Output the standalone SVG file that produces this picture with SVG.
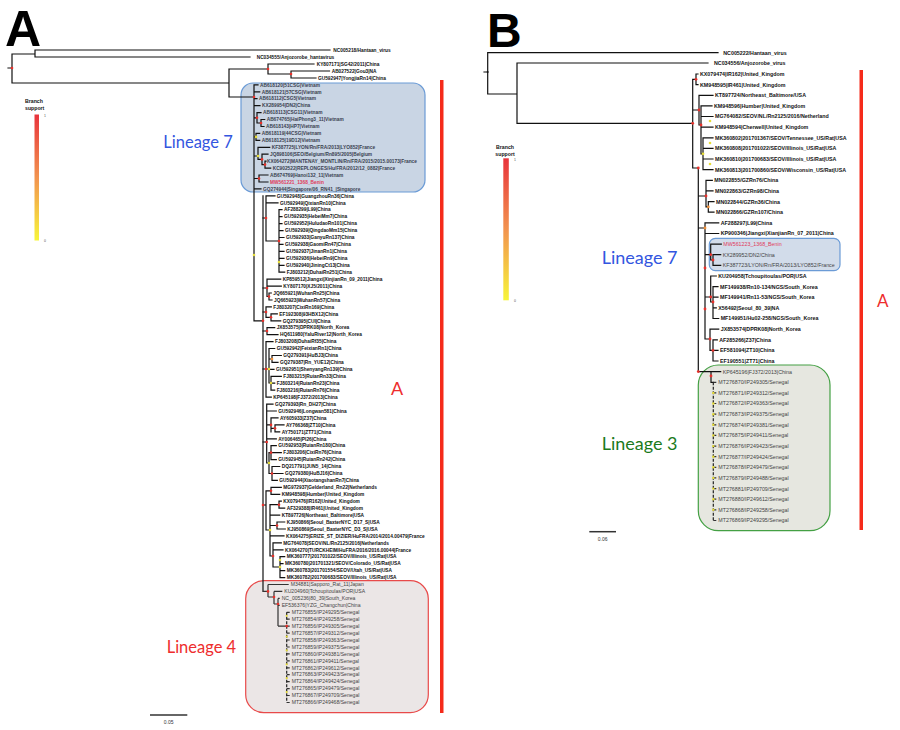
<svg xmlns="http://www.w3.org/2000/svg" width="900" height="730" viewBox="0 0 900 730">
<style>
.bg{fill:#fff}
.br{fill:none;stroke:#111;stroke-width:1.2;stroke-linecap:square}
.brg{fill:none;stroke:#333;stroke-width:1.2}
.dash{fill:none;stroke:#222;stroke-width:1.2;stroke-dasharray:3 1.5}
.ta{font-family:"Liberation Sans",Arial,sans-serif;font-size:4.8px;font-weight:bold;fill:#111}
.t7{font-family:"Liberation Sans",Arial,sans-serif;font-size:4.8px;font-weight:bold;fill:#3a4150}
.t4{font-family:"Liberation Sans",Arial,sans-serif;font-size:5.1px;fill:#444}
.tb{font-family:"Liberation Sans",Arial,sans-serif;font-size:5.3px;font-weight:bold;fill:#111}
.tbl{font-family:"Liberation Sans",Arial,sans-serif;font-size:5.3px;fill:#444}
.red{fill:#e03a5a}
.big{font-family:"Liberation Sans",Arial,sans-serif;font-weight:bold;fill:#000}
.lin{font-family:Lato,"Open Sans",sans-serif}
.leg{font-family:"Liberation Sans",Arial,sans-serif;font-size:5.2px;font-weight:bold;fill:#111}
.tiny{font-family:"Liberation Sans",Arial,sans-serif;font-size:3.5px;fill:#555}
.sc{font-family:"Liberation Sans",Arial,sans-serif;font-size:5px;fill:#333}
.r{fill:#e8302a}.y{fill:#e6dc3a}.o{fill:#f0903a}
</style>
<defs>
<linearGradient id="grad" x1="0" y1="0" x2="0" y2="1">
<stop offset="0" stop-color="#e8343c"/>
<stop offset="0.5" stop-color="#f2934f"/>
<stop offset="1" stop-color="#f7f53a"/>
</linearGradient>
</defs>
<rect class="bg" x="0" y="0" width="900" height="730"/>

<!-- Panel letters -->
<text class="big" x="5" y="46" font-size="50">A</text>
<text class="big" x="487" y="47" font-size="48">B</text>

<!-- Legends -->
<g id="legendA">
<text class="leg" x="25" y="103">Branch</text>
<text class="leg" x="25" y="110">support</text>
<rect x="34.5" y="114.5" width="4.5" height="126" fill="url(#grad)"/>
<text class="tiny" x="44" y="117">1</text>
<text class="tiny" x="44" y="242">0</text>
</g>
<g id="legendB">
<text class="leg" x="505" y="149" text-anchor="middle">Branch</text>
<text class="leg" x="505" y="155.5" text-anchor="middle">support</text>
<rect x="503.3" y="158.3" width="5.5" height="142" fill="url(#grad)"/>
<text class="tiny" x="514" y="161">1</text>
<text class="tiny" x="514" y="302">0</text>
</g>

<!-- Boxes and clade bars -->
<g id="boxes">
<rect x="241" y="83" width="184" height="109" rx="12" fill="#c9d5e4" stroke="#6b9bd6" stroke-width="1.2"/>
<rect x="245.7" y="580.7" width="182.6" height="132" rx="18" fill="#ebe6e6" stroke="#e84a4a" stroke-width="1.2"/>
<rect x="709.3" y="238.3" width="130.7" height="32.4" rx="6" fill="#d2dcea" stroke="#6b9bd6" stroke-width="1.2"/>
<rect x="698.3" y="365" width="131.7" height="165.7" rx="20" fill="#e6e7e0" stroke="#44a044" stroke-width="1.2"/>
<rect x="440" y="80" width="3.5" height="633" fill="#f52a1a"/>
<rect x="859.5" y="70" width="3.5" height="460" fill="#f52a1a"/>
</g>
<g id="cladelabels">
<text class="lin" x="163.3" y="148.3" font-size="16.5" fill="#3356e0">Lineage 7</text>
<text class="lin" x="166.7" y="653" font-size="16.5" fill="#ee2d2d">Lineage 4</text>
<text class="lin" x="391" y="395" font-size="18" fill="#ee2d2d">A</text>
<text class="lin" x="601.7" y="264.3" font-size="18" fill="#3356e0">Lineage 7</text>
<text class="lin" x="601.7" y="450" font-size="18" fill="#1c7a1c">Lineage 3</text>
<text class="lin" x="877" y="307" font-size="17" fill="#ee2d2d">A</text>
</g>

<!-- Scale bars -->
<g id="scaleA"><path d="M150,715H187.3" stroke="#333" stroke-width="1.5"/><text class="sc" x="168.7" y="724" text-anchor="middle">0.05</text></g>
<g id="scaleB"><path d="M589.3,531.7H616" stroke="#333" stroke-width="1.5"/><text class="sc" x="602.7" y="541" text-anchor="middle">0.06</text></g>

<!-- Connectors -->
<g id="connectors">
<path class="br" d="M8,68H12 M12,54V83 M12,54H35 M35,50V57 M35,50H330 M35,57H250 M12,83H229 M229,69V97 M229,69H268 M268,64V74 M268,64H314 M268,74H291 M291,71V78 M291,71H329.5 M291,78H316
M229,97H254 M254,84.8V320.8 M254,320.8H263
M254,84.8H258 M254,91.8H259.7 M254,98.7H257 M254,105.6H260
M254,117.8H257 M257,112.6V123 M257,112.6H261 M257,123H261 M261,119.5V126.5 M261,119.5H264.7 M261,126.5H264
M254,136.9H256 M256,133.4V140.3 M256,133.4H259.7 M256,140.3H259.7
M254,156H258 M258,147.3V159.4 M258,147.3H269.7 M258,159.4H262 M262,154.2V164.6 M262,154.2H268 M262,164.6H265 M265,161.2V168.1 M265,161.2H266 M265,168.1H270.7
M254,178.5H259 M259,175V182 M259,175H268 M259,182H268
M254,188.9H261
M263,218H266 M266,195.9V241 M266,195.9H275 M266,202.8H278 M266,241H279 M279,209.7V272.2 M279,209.7H282 M279,216.7H282 M279,223.6H282 M279,230.6H283 M279,237.5H284 M279,244.4H283 M279,251.4H284 M279,258.3H284 M279,265.3H284 M279,272.2H284.7
M263,288H267 M267,279.1V296.5 M267,279.1H280.7 M267,286.1H281.3 M267,296.5H269 M269,293V300 M269,293H271.3 M269,300H272
M263,312H266 M266,306.9V317.3 M266,306.9H271.3 M266,317.3H271 M271,313.8V320.8 M271,313.8H277.3 M271,320.8H280.7
M263,331H267 M267,327.7V334.7 M267,327.7H274.7 M267,334.7H278
M263,369H266 M266,341.6V397.1 M266,341.6H273 M266,397.1H271.3 M266,369H269 M269,348.5V383 M269,348.5H274.7 M269,369.4H274 M269,359H272 M272,355.5V362.4 M272,355.5H281.3 M272,362.4H278 M269,383H271 M271,376.3V390.2 M271,376.3H281.3 M271,383.2H274.7 M271,390.2H274.7
M263,442H266.7 M266.7,404.1V463 M266.7,404.1H273 M266.7,411H276.3 M266.7,424.9H271 M271,417.9V431.8 M271,417.9H278 M271,428.3H275 M275,424.9V431.8 M275,424.9H284 M275,431.8H279.7 M266.7,438.8H276.3 M266.7,463H269 M269,452.6V473.5 M269,452.6H271 M271,445.7V459.6 M271,445.7H276.3 M271,452.6H281.3 M271,459.6H276.3 M269,473.5H272 M272,466.5V480.4 M272,466.5H279.7 M272,473.5H283 M272,480.4H277.3
M263,505H266 M266,490.8V530 M266,490.8H271 M271,487.3V494.3 M271,487.3H281.3 M271,494.3H279.7 M266,530H270 M270,504.7V556 M270,504.7H279 M279,501.2V508.2 M279,501.2H281.3 M279,508.2H284.7 M270,515.1H279.7 M270,525.5H277 M277,522V529 M277,522H284.7 M277,529H285.3 M270,535.9H284 M270,556H273 M273,542.9V567 M273,542.9H281.3 M273,549.8H283 M273,567H280 M280,556.7V577.6 M280,556.7H284.7 M280,563.7H283 M280,570.6H284.7 M280,577.6H284.7"/>
<path class="br" stroke-width="1.8" d="M263,195.9V591.4"/>
<path class="brg" d="M263,591.4H268 M268,584.5V597 M268,584.5H288.7 M268,597H274 M274,591.4V604 M274,591.4H282.3 M274,604H278 M278,598.4V626.1 M278,598.4H279.7 M278,605.3H279.7 M278,626.1H286.7
M286.7,612.3H289.7 M286.7,619.2H289.7 M286.7,626.1H289.7 M286.7,633.1H289.7 M286.7,640H289.7 M286.7,647H289.7 M286.7,653.9H289.7 M286.7,660.8H289.7 M286.7,667.8H289.7 M286.7,674.7H289.7 M286.7,681.7H289.7 M286.7,688.6H289.7 M286.7,695.5H289.7 M286.7,702.5H289.7"/>
<path class="dash" d="M286.7,612.3V702.5"/>
<path class="br" d="M484,72H487.7 M487.7,52.7V94 M487.7,52.7H718 M487.7,94H517 M517,63V123.3 M517,63H708 M517,123.3H692.7
M692.7,79.3V168 M692.7,79.3H696 M696,74V84.6 M696,74H698 M696,84.6H698
M692.7,110H699 M699,95.3V125 M699,95.3H713 M699,125H701 M701,105.9V153.8 M701,105.9H712 M701,116.5H713 M701,127.2H713 M701,153.8H703 M703,137.8V169.7 M703,137.8H713 M703,148.4H713 M703,159H713 M703,169.7H713
M692.7,168H698.3 M698.3,168V371.6
M698.3,196H706 M706,180.3V206.9 M706,180.3H712.3 M706,190.9H713 M706,206.9H708.3 M708.3,201.6V212.2 M708.3,201.6H714 M708.3,212.2H714
M698.3,228H705 M705,222.8V339 M705,222.8H718.7 M705,233.5H718.7
M705,254.7H710.7 M710.7,244.1V260 M710.7,244.1H721.3 M710.7,260H713 M713,254.7V265.3 M713,254.7H720.7 M713,265.3H720.7
M705,297H710.7 M710.7,276V302 M710.7,276H716.3 M710.7,302H713 M713,286.6V318.5 M713,286.6H718 M713,297.2H718 M713,307.9H716.3 M713,318.5H718.7
M705,339H710 M710,329.1V350.4 M710,329.1H718.7 M710,350.4H713 M713,339.8V361 M713,339.8H717.3 M713,350.4H718 M713,361H718
M698.3,371.6H711 M711,371.6V382.3 M711,371.6H720.7 M711,382.3H713.3"/>
<path class="brg" d="M713.3,382.3H716.3 M713.3,392.9H716.3 M713.3,403.5H716.3 M713.3,414.2H716.3 M713.3,424.8H716.3 M713.3,435.4H716.3 M713.3,446.1H716.3 M713.3,456.7H716.3 M713.3,467.3H716.3 M713.3,477.9H716.3 M713.3,488.6H716.3 M713.3,499.2H716.3 M713.3,509.8H716.3 M713.3,520.5H716.3"/>
<path class="dash" d="M713.3,382.3V520.5"/>
</g>

<!-- Support dots -->
<g id="dots">
<circle class="r" cx="12" cy="68" r="1.3"/><circle class="r" cx="268" cy="69" r="1.3"/><circle class="r" cx="291" cy="74" r="1.3"/>
<circle class="r" cx="254" cy="97" r="1.3"/><circle class="r" cx="257" cy="117.8" r="1.3"/><circle class="r" cx="261" cy="123" r="1.3"/>
<circle class="y" cx="256" cy="136.9" r="1.3"/><circle class="y" cx="258" cy="156" r="1.3"/><circle class="r" cx="262" cy="159.4" r="1.3"/>
<circle class="r" cx="265" cy="164.6" r="1.3"/><circle class="r" cx="259" cy="178.5" r="1.3"/><circle class="y" cx="254" cy="255" r="1.3"/>
<circle class="r" cx="263" cy="320.8" r="1.3"/><circle class="r" cx="266" cy="218" r="1.3"/><circle class="r" cx="279" cy="241" r="1.3"/>
<circle class="y" cx="279" cy="262" r="1.3"/><circle class="r" cx="267" cy="288" r="1.3"/><circle class="r" cx="269" cy="296.5" r="1.3"/>
<circle class="r" cx="266" cy="312" r="1.3"/><circle class="r" cx="271" cy="317.3" r="1.3"/><circle class="r" cx="267" cy="331" r="1.3"/>
<circle class="r" cx="266" cy="369" r="1.3"/><circle class="y" cx="269" cy="369" r="1.3"/><circle class="o" cx="272" cy="359" r="1.3"/>
<circle class="y" cx="271" cy="383" r="1.3"/><circle class="r" cx="266.7" cy="442" r="1.3"/><circle class="r" cx="271" cy="424.9" r="1.3"/>
<circle class="r" cx="275" cy="428.3" r="1.3"/><circle class="y" cx="269" cy="463" r="1.3"/><circle class="r" cx="271" cy="452.6" r="1.3"/>
<circle class="r" cx="272" cy="473.5" r="1.3"/><circle class="r" cx="263" cy="505" r="1.3"/><circle class="r" cx="271" cy="490.8" r="1.3"/>
<circle class="r" cx="279" cy="504.7" r="1.3"/><circle class="y" cx="270" cy="530" r="1.3"/><circle class="r" cx="277" cy="525.5" r="1.3"/>
<circle class="r" cx="273" cy="556" r="1.3"/><circle class="y" cx="280" cy="567" r="1.3"/><circle class="y" cx="280" cy="560" r="1.3"/>
<circle class="r" cx="268" cy="591.4" r="1.3"/><circle class="r" cx="274" cy="597" r="1.3"/><circle class="r" cx="278" cy="604" r="1.3"/>
<circle class="r" cx="286.7" cy="626.1" r="1.3"/>
<circle class="y" cx="286.7" cy="615.8" r="1.1"/><circle class="y" cx="286.7" cy="636.6" r="1.1"/><circle class="y" cx="286.7" cy="650.4" r="1.1"/>
<circle class="y" cx="286.7" cy="664.3" r="1.1"/><circle class="y" cx="286.7" cy="678.2" r="1.1"/><circle class="y" cx="286.7" cy="692.1" r="1.1"/>
<circle cx="487.7" cy="72" r="1" fill="#111"/>
<circle class="r" cx="692.7" cy="123.3" r="1.4"/><circle class="r" cx="696" cy="79.3" r="1.4"/><circle class="r" cx="699" cy="110" r="1.4"/>
<circle class="r" cx="701" cy="125" r="1.4"/><circle class="y" cx="703" cy="153.8" r="1.4"/><circle class="y" cx="710" cy="121" r="1.3"/>
<circle class="y" cx="710" cy="143" r="1.3"/><circle class="y" cx="710" cy="164" r="1.3"/>
<circle class="r" cx="698.3" cy="168" r="1.4"/><circle class="r" cx="706" cy="196" r="1.4"/><circle class="o" cx="708.3" cy="206.9" r="1.4"/>
<circle class="o" cx="705" cy="228" r="1.4"/><circle class="r" cx="710.7" cy="254.7" r="1.4"/><circle class="r" cx="713" cy="260" r="1.4"/>
<circle class="r" cx="705" cy="268" r="1.4"/><circle class="r" cx="710.7" cy="297" r="1.4"/><circle class="r" cx="705" cy="309" r="1.4"/>
<circle class="r" cx="713" cy="302" r="1.4"/><circle class="r" cx="710" cy="339" r="1.4"/><circle class="r" cx="713" cy="350.4" r="1.4"/>
<circle class="r" cx="698.3" cy="371.6" r="1.4"/><circle class="r" cx="711" cy="376" r="1.4"/>
<circle class="y" cx="713.3" cy="392.9" r="1.2"/><circle class="y" cx="713.3" cy="403.5" r="1.2"/><circle class="y" cx="713.3" cy="414.2" r="1.2"/>
<circle class="y" cx="713.3" cy="424.8" r="1.2"/><circle class="y" cx="713.3" cy="435.4" r="1.2"/><circle class="y" cx="713.3" cy="446.1" r="1.2"/>
<circle class="y" cx="713.3" cy="456.7" r="1.2"/><circle class="y" cx="713.3" cy="467.3" r="1.2"/><circle class="y" cx="713.3" cy="477.9" r="1.2"/>
<circle class="y" cx="713.3" cy="488.6" r="1.2"/><circle class="y" cx="713.3" cy="499.2" r="1.2"/><circle class="y" cx="713.3" cy="509.8" r="1.2"/>
</g>

<!-- Panel A tips -->
<g id="a-NC005218"><text class="ta" x="333.3" y="51.7">NC005218/Hantaan_virus</text></g>
<g id="a-NC034555"><text class="ta" x="256.7" y="58.7">NC034555/Anjozorobe_hantavirus</text></g>
<g id="a-KY807171"><text class="ta" x="316.7" y="65.7">KY807171|SG42/2011|China</text></g>
<g id="a-AB027522"><text class="ta" x="331.7" y="72.6">AB027522|Gou3|NA</text></g>
<g id="a-GU592947"><text class="ta" x="318" y="79.6">GU592947|YongjiaRn14|China</text></g>
<g id="a-AB618120"><text class="t7" x="260" y="86.5">AB618120|51CSG|Vietnam</text></g>
<g id="a-AB618121"><text class="t7" x="261.7" y="93.5">AB618121|57CSG|Vietnam</text></g>
<g id="a-AB618112"><text class="t7" x="259" y="100.4">AB618112|CSG5|Vietnam</text></g>
<g id="a-KX289954"><text class="t7" x="262" y="107.3">KX289954|DN2|China</text></g>
<g id="a-AB618113"><text class="t7" x="263" y="114.3">AB618113|CSG11|Vietnam</text></g>
<g id="a-AB674765"><text class="t7" x="266.7" y="121.2">AB674765|HaiPhong3_11|Vietnam</text></g>
<g id="a-AB618143"><text class="t7" x="266" y="128.2">AB618143|HP7|Vietnam</text></g>
<g id="a-AB618119"><text class="t7" x="261.7" y="135.1">AB618119|44CSG|Vietnam</text></g>
<g id="a-AB618125"><text class="t7" x="261.7" y="142">AB618125|19D12|Vietnam</text></g>
<g id="a-KF387725"><text class="t7" x="271.7" y="149">KF387725|LYON/Rn/FRA/2013|LYO852|France</text></g>
<g id="a-JQ898106"><text class="t7" x="270" y="155.9">JQ898106|SEO/Belgium/Rn895/2005|Belgium</text></g>
<g id="a-KX064272"><text class="t7" x="267" y="162.9">KX064272|MANTENAY_MONTLIN/Rn/FRA/2015/2015.00173|France</text></g>
<g id="a-KC902522"><text class="t7" x="272.7" y="169.8">KC902522|REPLONGES/Hu/FRA/2012/12_0882|France</text></g>
<g id="a-AB674769"><text class="t7" x="270" y="176.7">AB674769|Hanoi132_11|Vietnam</text></g>
<g id="a-MW561221"><text class="t7 red" x="270" y="183.7">MW561221_1368_Benin</text></g>
<g id="a-GQ274944"><text class="t7" x="263" y="190.6">GQ274944|Singapore/06_RN41_|Singapore</text></g>
<g id="a-GU592948"><text class="ta" x="276.7" y="197.6">GU592948|GuangzhouRn36|China</text></g>
<g id="a-GU592949"><text class="ta" x="280" y="204.5">GU592949|QixianRn10|China</text></g>
<g id="a-AF288299"><text class="ta" x="284" y="211.4">AF288299|L99|China</text></g>
<g id="a-GU592935"><text class="ta" x="284" y="218.4">GU592935|HebeiMm7|China</text></g>
<g id="a-GU592952"><text class="ta" x="284" y="225.3">GU592952|HuludaoRn101|China</text></g>
<g id="a-GU592939"><text class="ta" x="285" y="232.3">GU592939|QingdaoMm15|China</text></g>
<g id="a-GU592933"><text class="ta" x="286" y="239.2">GU592933|GanyuRn137|China</text></g>
<g id="a-GU592938"><text class="ta" x="285" y="246.1">GU592938|GaomiRn47|China</text></g>
<g id="a-GU592937"><text class="ta" x="286" y="253.1">GU592937|JinanRn1|China</text></g>
<g id="a-GU592936"><text class="ta" x="286" y="260">GU592936|HebeiRn9|China</text></g>
<g id="a-GU592940"><text class="ta" x="286" y="267">GU592940|JiningCt13|China</text></g>
<g id="a-FJ803212"><text class="ta" x="286.7" y="273.9">FJ803212|DuhaiRn251|China</text></g>
<g id="a-KP859512"><text class="ta" x="282.7" y="280.8">KP859512|Jiangxi|XinjianRn_09_2011|China</text></g>
<g id="a-KY807170"><text class="ta" x="283.3" y="287.8">KY807170|XJ5/2011|China</text></g>
<g id="a-JQ665921"><text class="ta" x="273.3" y="294.7">JQ665921|WuhanRn25|China</text></g>
<g id="a-JQ665923"><text class="ta" x="274" y="301.7">JQ665923|WuhanRn57|China</text></g>
<g id="a-FJ803207"><text class="ta" x="273.3" y="308.6">FJ803207|CixiRn169|China</text></g>
<g id="a-EF192308"><text class="ta" x="279.3" y="315.5">EF192308|93HBX12|China</text></g>
<g id="a-GQ279395"><text class="ta" x="282.7" y="322.5">GQ279395|CUI|China</text></g>
<g id="a-JX853575"><text class="ta" x="276.7" y="329.4">JX853575|DPRK08|North_Korea</text></g>
<g id="a-HQ611980"><text class="ta" x="280" y="336.4">HQ611980|YaluRiver12|North_Korea</text></g>
<g id="a-FJ803208"><text class="ta" x="275" y="343.3">FJ803208|DuhaiRf35|China</text></g>
<g id="a-GU592942"><text class="ta" x="276.7" y="350.2">GU592942|FeixianRn1|China</text></g>
<g id="a-GQ279391"><text class="ta" x="283.3" y="357.2">GQ279391|HuBJ3|China</text></g>
<g id="a-GQ279387"><text class="ta" x="280" y="364.1">GQ279387|Rn_YUE12|China</text></g>
<g id="a-GU592951"><text class="ta" x="276" y="371.1">GU592951|ShenyangRn139|China</text></g>
<g id="a-FJ803215"><text class="ta" x="283.3" y="378">FJ803215|RuianRn33|China</text></g>
<g id="a-FJ803214"><text class="ta" x="276.7" y="384.9">FJ803214|RuianRn23|China</text></g>
<g id="a-FJ803216"><text class="ta" x="276.7" y="391.9">FJ803216|RuianRn76|China</text></g>
<g id="a-KP645198"><text class="ta" x="273.3" y="398.8">KP645198|FJ372/2013|China</text></g>
<g id="a-GQ279393"><text class="ta" x="275" y="405.8">GQ279393|Rn_DH27|China</text></g>
<g id="a-GU592946"><text class="ta" x="278.3" y="412.7">GU592946|Longwan581|China</text></g>
<g id="a-AY605933"><text class="ta" x="280" y="419.6">AY605933|Z37|China</text></g>
<g id="a-AY766368"><text class="ta" x="286" y="426.6">AY766368|ZT10|China</text></g>
<g id="a-AY750171"><text class="ta" x="281.7" y="433.5">AY750171|ZT71|China</text></g>
<g id="a-AY006465"><text class="ta" x="278.3" y="440.5">AY006465|PI26|China</text></g>
<g id="a-GU592953"><text class="ta" x="278.3" y="447.4">GU592953|RuianRn180|China</text></g>
<g id="a-FJ803206"><text class="ta" x="283.3" y="454.3">FJ803206|CixiRn76|China</text></g>
<g id="a-GU592945"><text class="ta" x="278.3" y="461.3">GU592945|RuianRn242|China</text></g>
<g id="a-DQ217791"><text class="ta" x="281.7" y="468.2">DQ217791|JUN5_14|China</text></g>
<g id="a-GQ279380"><text class="ta" x="285" y="475.2">GQ279380|HuBJ16|China</text></g>
<g id="a-GU592944"><text class="ta" x="279.3" y="482.1">GU592944|XiaotangshanRn7|China</text></g>
<g id="a-MG972937"><text class="ta" x="283.3" y="489">MG972937|Gelderland_Rn22|Netherlands</text></g>
<g id="a-KM948598"><text class="ta" x="281.7" y="496">KM948598|Humber|United_Kingdom</text></g>
<g id="a-KX079476"><text class="ta" x="283.3" y="502.9">KX079476|IR162|United_Kingdom</text></g>
<g id="a-AF329388"><text class="ta" x="286.7" y="509.9">AF329388|IR461|United_Kingdom</text></g>
<g id="a-KT897726"><text class="ta" x="281.7" y="516.8">KT897726|Northeast_Baltimore|USA</text></g>
<g id="a-KJ950866"><text class="ta" x="286.7" y="523.7">KJ950866|Seoul_BaxterNYC_D17_S|USA</text></g>
<g id="a-KJ950869"><text class="ta" x="287.3" y="530.7">KJ950869|Seoul_BaxterNYC_D3_S|USA</text></g>
<g id="a-KX064275"><text class="ta" x="286" y="537.6">KX064275|ERIZE_ST_DIZIER/HuFRA/2014/2014.00479|France</text></g>
<g id="a-MG764078"><text class="ta" x="283.3" y="544.6">MG764078|SEOV/NL/Rn2125/2016|Netherlands</text></g>
<g id="a-KX064270"><text class="ta" x="285" y="551.5">KX064270|TURCKHEIM/HuFRA/2016/2016.00044|France</text></g>
<g id="a-MK360777"><text class="ta" x="286.7" y="558.4">MK360777|201701022/SEOV/Illinois_US/Rat|USA</text></g>
<g id="a-MK360780"><text class="ta" x="285" y="565.4">MK360780|201701321/SEOV/Colorado_US/Rat|USA</text></g>
<g id="a-MK360783"><text class="ta" x="286.7" y="572.3">MK360783|201701554/SEOV/Utah_US/Rat|USA</text></g>
<g id="a-MK360782"><text class="ta" x="286.7" y="579.3">MK360782|201700683/SEOV/Illinois_US/Rat|USA</text></g>
<g id="a-M34881"><text class="t4" x="290.7" y="586.2">M34881|Sapporo_Rat_11|Japan</text></g>
<g id="a-KU204960"><text class="t4" x="284.3" y="593.1">KU204960|Tchoupitoulas/POR|USA</text></g>
<g id="a-NC_005236"><text class="t4" x="281.7" y="600.1">NC_005236|80_39|South_Korea</text></g>
<g id="a-EF536376"><text class="t4" x="281.7" y="607">EF536376|YZG_Changchun|China</text></g>
<g id="a-MT276855"><text class="t4" x="291.7" y="614">MT276855/IP249295/Senegal</text></g>
<g id="a-MT276854"><text class="t4" x="291.7" y="620.9">MT276854/IP249258/Senegal</text></g>
<g id="a-MT276856"><text class="t4" x="291.7" y="627.8">MT276856/IP249305/Senegal</text></g>
<g id="a-MT276857"><text class="t4" x="291.7" y="634.8">MT276857/IP249312/Senegal</text></g>
<g id="a-MT276858"><text class="t4" x="291.7" y="641.7">MT276858/IP249363/Senegal</text></g>
<g id="a-MT276859"><text class="t4" x="291.7" y="648.7">MT276859/IP249375/Senegal</text></g>
<g id="a-MT276860"><text class="t4" x="291.7" y="655.6">MT276860/IP249381/Senegal</text></g>
<g id="a-MT276861"><text class="t4" x="291.7" y="662.5">MT276861/IP249411/Senegal</text></g>
<g id="a-MT276862"><text class="t4" x="291.7" y="669.5">MT276862/IP249612/Senegal</text></g>
<g id="a-MT276863"><text class="t4" x="291.7" y="676.4">MT276863/IP249423/Senegal</text></g>
<g id="a-MT276864"><text class="t4" x="291.7" y="683.4">MT276864/IP249424/Senegal</text></g>
<g id="a-MT276865"><text class="t4" x="291.7" y="690.3">MT276865/IP249479/Senegal</text></g>
<g id="a-MT276867"><text class="t4" x="291.7" y="697.2">MT276867/IP249709/Senegal</text></g>
<g id="a-MT276866"><text class="t4" x="291.7" y="704.2">MT276866/IP249468/Senegal</text></g>

<!-- Panel B tips -->
<g id="b-NC005222"><text class="tb" x="723.3" y="54.6">NC005222/Hantaan_virus</text></g>
<g id="b-NC034556"><text class="tb" x="714" y="64.9">NC034556/Anjozorobe_virus</text></g>
<g id="b-KX079474"><text class="tb" x="700" y="75.9">KX079474|IR162|United_Kingdom</text></g>
<g id="b-KM948595"><text class="tb" x="700" y="86.5">KM948595|IR461|United_Kingdom</text></g>
<g id="b-KT897724"><text class="tb" x="715" y="97.2">KT897724/Northeast_Baltimore/USA</text></g>
<g id="b-KM948596"><text class="tb" x="714" y="107.8">KM948596|Humber|United_Kingdom</text></g>
<g id="b-MG764082"><text class="tb" x="715" y="118.4">MG764082/SEOV/NL/Rn2125/2016/Netherland</text></g>
<g id="b-KM948594"><text class="tb" x="715" y="129.1">KM948594|Cherwell|United_Kingdom</text></g>
<g id="b-MK360802"><text class="tb" x="715" y="139.7">MK360802|201701367/SEOV/Tennessee_US/Rat|USA</text></g>
<g id="b-MK360808"><text class="tb" x="715" y="150.3">MK360808|201701022/SEOV/Illinois_US/Rat|USA</text></g>
<g id="b-MK360810"><text class="tb" x="715" y="160.9">MK360810|201700683/SEOV/Illinois_US/Rat|USA</text></g>
<g id="b-MK360813"><text class="tb" x="715" y="171.6">MK360813|201700860/SEOV/Wisconsin_US/Rat|USA</text></g>
<g id="b-MN022855"><text class="tb" x="714.3" y="182.2">MN022855/GZRn76/China</text></g>
<g id="b-MN022863"><text class="tb" x="715" y="192.8">MN022863/GZRn98/China</text></g>
<g id="b-MN022844"><text class="tb" x="716" y="203.5">MN022844/GZRn36/China</text></g>
<g id="b-MN022866"><text class="tb" x="716" y="214.1">MN022866/GZRn107/China</text></g>
<g id="b-AF288297"><text class="tb" x="720.7" y="224.7">AF288297|L99|China</text></g>
<g id="b-KP900346"><text class="tb" x="720.7" y="235.4">KP900346|Jiangxi|XianjianRn_07_2011|China</text></g>
<g id="b-MW561223"><text class="tbl red" x="723.3" y="246">MW561223_1368_Benin</text></g>
<g id="b-KX289952"><text class="tbl" x="722.7" y="256.6">KX289952/DN2/China</text></g>
<g id="b-KF387723"><text class="tbl" x="722.7" y="267.2">KF387723/LYON/Rn/FRA/2013/LYO852/France</text></g>
<g id="b-KU204958"><text class="tb" x="718.3" y="277.9">KU204958|Tchoupitoulas/POR|USA</text></g>
<g id="b-MF149938"><text class="tb" x="720" y="288.5">MF149938/Rn10-134/NGS/South_Korea</text></g>
<g id="b-MF149941"><text class="tb" x="720" y="299.1">MF149941/Rn11-53/NGS/South_Korea</text></g>
<g id="b-X56492"><text class="tb" x="718.3" y="309.8">X56492|Seoul_80_39|NA</text></g>
<g id="b-MF149951"><text class="tb" x="720.7" y="320.4">MF149951/Hu02-258/NGS/South_Korea</text></g>
<g id="b-JX853574"><text class="tb" x="720.7" y="331">JX853574|DPRK08|North_Korea</text></g>
<g id="b-AF285266"><text class="tb" x="719.3" y="341.7">AF285266|Z37|China</text></g>
<g id="b-EF581094"><text class="tb" x="720" y="352.3">EF581094|ZT10|China</text></g>
<g id="b-EF190551"><text class="tb" x="720" y="362.9">EF190551|ZT71|China</text></g>
<g id="b-KP645196"><text class="tbl" x="722.7" y="373.5">KP645196|FJ372/2013|China</text></g>
<g id="b-MT276870"><text class="tbl" x="718.3" y="384.2">MT276870/IP249305/Senegal</text></g>
<g id="b-MT276871"><text class="tbl" x="718.3" y="394.8">MT276871/IP249312/Senegal</text></g>
<g id="b-MT276872"><text class="tbl" x="718.3" y="405.4">MT276872/IP249363/Senegal</text></g>
<g id="b-MT276873"><text class="tbl" x="718.3" y="416.1">MT276873/IP249375/Senegal</text></g>
<g id="b-MT276874"><text class="tbl" x="718.3" y="426.7">MT276874/IP249381/Senegal</text></g>
<g id="b-MT276875"><text class="tbl" x="718.3" y="437.3">MT276875/IP249411/Senegal</text></g>
<g id="b-MT276876"><text class="tbl" x="718.3" y="448">MT276876/IP249423/Senegal</text></g>
<g id="b-MT276877"><text class="tbl" x="718.3" y="458.6">MT276877/IP249424/Senegal</text></g>
<g id="b-MT276878"><text class="tbl" x="718.3" y="469.2">MT276878/IP249479/Senegal</text></g>
<g id="b-MT276879"><text class="tbl" x="718.3" y="479.8">MT276879/IP249488/Senegal</text></g>
<g id="b-MT276881"><text class="tbl" x="718.3" y="490.5">MT276881/IP249709/Senegal</text></g>
<g id="b-MT276880"><text class="tbl" x="718.3" y="501.1">MT276880/IP249612/Senegal</text></g>
<g id="b-MT276868"><text class="tbl" x="718.3" y="511.7">MT276868/IP249258/Senegal</text></g>
<g id="b-MT276869"><text class="tbl" x="718.3" y="522.4">MT276869/IP249295/Senegal</text></g>
</svg>
